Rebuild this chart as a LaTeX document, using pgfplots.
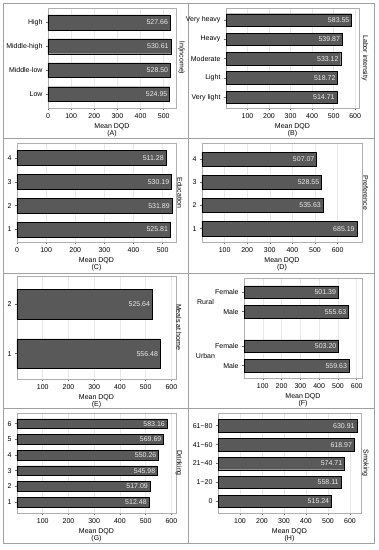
\documentclass[border=0pt]{standalone}
\usepackage{fontspec}
\setmainfont{Liberation Sans}
\usepackage{pgfplots}
\pgfplotsset{compat=1.18}
\definecolor{barc}{RGB}{89,89,89}
\definecolor{framec}{RGB}{175,175,175}
\definecolor{panelc}{RGB}{160,160,160}
\definecolor{gridc}{RGB}{232,232,232}
\newcommand{\fs}{\fontsize{7}{7}\selectfont}
\pgfplotsset{
 panel/.style={
  scale only axis,
  anchor=south west,
  xbar,
  xmin=0,
  axis line style={framec, line width=0.6pt},
  tick style={framec!60!black, line width=0.5pt},
  major tick length=2pt,
  tick align=outside,
  tick pos=left,
  xmajorgrids, grid style={gridc, line width=0.5pt},
  /pgf/number format/assume math mode=true,
  tick label style={font=\fs, text=black},
  label style={font=\fs},
  xlabel style={align=center, text=black, yshift=2pt},
  point meta=x,
  nodes near coords={\pgfmathprintnumber[fixed,fixed zerofill,precision=2]{\pgfplotspointmeta}},
  every node near coord/.append style={anchor=east, font=\fs, text=white!92!black, xshift=-1.5pt, inner sep=0.5pt},
  cycle list={{fill=barc, draw=barc!85!white, line width=0.3pt}},
  scaled x ticks=false,
  xlabel={Mean DQD},
 }
}
\begin{document}
\begin{tikzpicture}
\path[use as bounding box] (0pt,0pt) rectangle (379pt,550pt);
% panel frames
\draw[panelc, line width=0.7pt] (3pt,7pt) rectangle (374pt,547pt);
\draw[panelc, line width=0.7pt] (188pt,7pt) -- (188pt,547pt);
\draw[panelc, line width=0.7pt] (3pt,412pt) -- (374pt,412pt);
\draw[panelc, line width=0.7pt] (3pt,277pt) -- (374pt,277pt);
\draw[panelc, line width=0.7pt] (3pt,142pt) -- (374pt,142pt);

% (A)
\begin{axis}[panel, at={(48pt,441.5pt)}, width=128pt, height=100.5pt,
  xmax=553, ymin=0.4, ymax=4.6, bar width=0.62,
  ytick={1,2,3,4}, yticklabels={Low,Middle-low,Middle-high,High},
  xtick={0,100,...,500}, xlabel={Mean DQD\\(A)}]
\addplot coordinates {(524.95,1) (528.50,2) (530.61,3) (527.66,4)};
\end{axis}
\node[rotate=-90, font=\fs] at (181.5pt,492pt) {ln(income)};

% (B)
\begin{axis}[panel, at={(226pt,441.5pt)}, width=133pt, height=100.5pt,
  xmax=618, ymin=0.42, ymax=5.62, bar width=0.65,
  ytick={1,2,3,4,5}, yticklabels={Very light,Light,Moderate,Heavy,Very heavy},
  xtick={100,200,...,600}, xlabel={Mean DQD\\(B)}]
\addplot coordinates {(514.71,1) (518.72,2) (533.12,3) (539.87,4) (583.55,5)};
\end{axis}
\node[rotate=-90, font=\fs] at (365pt,492pt) {Labor intensity};

% (C)
\begin{axis}[panel, at={(17pt,307.5pt)}, width=159pt, height=99.5pt,
  xmax=546, ymin=0.45, ymax=4.63, bar width=0.62,
  ytick={1,2,3,4}, yticklabels={1,2,3,4},
  xtick={0,100,...,500}, xlabel={Mean DQD\\(C)}]
\addplot coordinates {(525.81,1) (531.89,2) (530.19,3) (511.28,4)};
\end{axis}
\node[rotate=-90, font=\fs] at (180pt,357pt) {Education};

% (D)
\begin{axis}[panel, at={(202pt,307.5pt)}, width=160pt, height=99.5pt,
  xmax=708, ymin=0.4, ymax=4.7, bar width=0.62,
  ytick={1,2,3,4}, yticklabels={1,2,3,4},
  xtick={100,200,...,600}, xlabel={Mean DQD\\(D)}]
\addplot coordinates {(685.19,1) (535.63,2) (528.55,3) (507.07,4)};
\end{axis}
\node[rotate=-90, font=\fs] at (365.5pt,357pt) {Preference};

% (E)
\begin{axis}[panel, at={(17pt,171pt)}, width=159pt, height=103pt,
  xmax=618, ymin=0.49, ymax=2.57, bar width=0.6,
  ytick={1,2}, yticklabels={1,2},
  xtick={100,200,...,600}, xlabel={Mean DQD\\(E)}]
\addplot coordinates {(556.48,1) (525.64,2)};
\end{axis}
\node[rotate=-90, font=\fs] at (179pt,223pt) {Meals at home};

% (F)
\begin{axis}[panel, at={(244pt,172pt)}, width=118pt, height=100pt,
  xmax=628, ymin=0.37, ymax=5.46, bar width=0.63,
  ytick={1,2,3.75,4.75}, yticklabels={Male,Female,Male,Female},
  xtick={100,200,...,600}, xlabel={Mean DQD\\(F)}]
\addplot coordinates {(559.63,1) (503.20,2) (555.63,3.75) (501.39,4.75)};
\end{axis}
\node[font=\fs] at (205.5pt,247.7pt) {Rural};
\node[font=\fs] at (205.5pt,194pt) {Urban};

% (G)
\begin{axis}[panel, at={(17pt,37pt)}, width=159pt, height=100pt,
  xmax=618, ymin=0.3, ymax=6.68, bar width=0.62,
  ytick={1,2,3,4,5,6}, yticklabels={1,2,3,4,5,6},
  xtick={100,200,...,600}, xlabel={Mean DQD\\(G)}]
\addplot coordinates {(512.48,1) (517.09,2) (545.98,3) (550.26,4) (569.69,5) (583.16,6)};
\end{axis}
\node[rotate=-90, font=\fs] at (179pt,87pt) {Drinking};

% (H)
\begin{axis}[panel, at={(218pt,37pt)}, width=143pt, height=100pt,
  xmax=650, ymin=0.39, ymax=5.67, bar width=0.65,
  ytick={1,2,3,4,5}, yticklabels={0,1\textasciitilde20,21\textasciitilde40,41\textasciitilde60,61\textasciitilde80},
  xtick={100,200,...,600}, xlabel={Mean DQD\\(H)}]
\addplot coordinates {(515.24,1) (558.11,2) (574.71,3) (618.97,4) (630.91,5)};
\end{axis}
\node[rotate=-90, font=\fs] at (365.5pt,87pt) {Smoking};
\end{tikzpicture}
\end{document}
